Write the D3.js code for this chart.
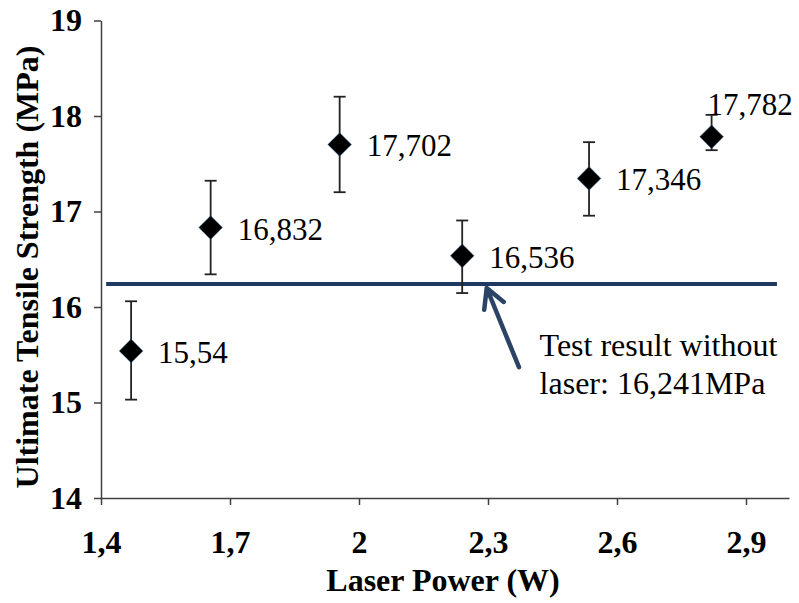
<!DOCTYPE html>
<html>
<head>
<meta charset="utf-8">
<script src="https://cdn.jsdelivr.net/npm/d3@7"></script>
<style>
  body { margin: 0; background: #fff; }
  svg { display: block; }
  svg text { font-family: "Times New Roman", Tinos, "Liberation Serif", "DejaVu Serif", serif; fill: #000; }
  .axis path, .axis line { stroke: #404040; stroke-width: 1.5; }
  .axis text { font-weight: bold; font-size: 32px; }
</style>
</head>
<body>
<div id="chart"></div>
<script>
// laser power (W) and ultimate tensile strength (MPa)
var power = [1.47, 1.655, 1.955, 2.24, 2.535, 2.82];
var strength = [15.54, 16.832, 17.702, 16.536, 17.346, 17.782];
var errUp = [0.52, 0.49, 0.5, 0.37, 0.38, 0.23];
var errDown = [0.51, 0.49, 0.5, 0.39, 0.39, 0.14];
var labels = ['15,54', '16,832', '17,702', '16,536', '17,346', '17,782'];
var xTicks = [1.4, 1.7, 2, 2.3, 2.6, 2.9];
var yTicks = [14, 15, 16, 17, 18, 19];
var noLaser = 16.241;
var noLaserText = ['Test result without', 'laser: 16,241MPa'];

var width = 799, height = 603;

var svg = d3.select('#chart').append('svg')
  .attr('width', width)
  .attr('height', height);

var x = d3.scaleLinear().domain([1.4, 3.0]).range([101, 789]);
var y = d3.scaleLinear().domain([14, 19]).range([498, 20.5]);

var fmt = function(d) { return String(d).replace('.', ','); };

// axes
svg.append('g')
  .attr('class', 'axis')
  .attr('transform', 'translate(0,' + y(14) + ')')
  .call(d3.axisBottom(x).tickValues(xTicks).tickFormat(fmt).tickSize(7).tickSizeOuter(0).tickPadding(25));

svg.append('g')
  .attr('class', 'axis')
  .attr('transform', 'translate(' + x(1.4) + ',0)')
  .call(d3.axisLeft(y).tickValues(yTicks).tickFormat(fmt).tickSize(7).tickSizeOuter(0).tickPadding(12));

svg.append('text')
  .attr('x', (x(1.4) + x(3.0)) / 2 - 2)
  .attr('y', 591)
  .attr('text-anchor', 'middle')
  .style('font-weight', 'bold')
  .style('font-size', '32px')
  .text('Laser Power (W)');

svg.append('text')
  .attr('transform', 'translate(38,267) rotate(-90)')
  .attr('text-anchor', 'middle')
  .style('font-weight', 'bold')
  .style('font-size', '32px')
  .text('Ultimate Tensile Strength (MPa)');

// reference line without laser
svg.append('line')
  .attr('x1', x(1.412)).attr('x2', x(2.972))
  .attr('y1', y(noLaser)).attr('y2', y(noLaser))
  .attr('stroke', '#1f3a60')
  .attr('stroke-width', 4);

// arrow
var tip = [x(2.297), y(noLaser) + 4];
var tail = [x(2.372), y(15.37)];
var ang = Math.atan2(tail[1] - tip[1], tail[0] - tip[0]);
var hl = 22, spread = 0.5;
svg.append('path')
  .attr('d', 'M' + tail + 'L' + tip +
    'M' + [tip[0] + hl * Math.cos(ang - spread), tip[1] + hl * Math.sin(ang - spread)] +
    'L' + tip +
    'L' + [tip[0] + hl * Math.cos(ang + spread), tip[1] + hl * Math.sin(ang + spread)])
  .attr('fill', 'none')
  .attr('stroke', '#2b4466')
  .attr('stroke-width', 4.5)
  .attr('stroke-linecap', 'round')
  .attr('stroke-linejoin', 'round');

svg.selectAll('.note')
  .data(noLaserText)
  .enter().append('text')
  .attr('class', 'note')
  .attr('x', x(2.42))
  .attr('y', function(d, i) { return y(15.5) + 1 + i * 38; })
  .style('font-size', '32px')
  .text(function(d) { return d; });

// error bars
var bars = svg.selectAll('.err')
  .data(power)
  .enter().append('g')
  .attr('class', 'err')
  .attr('stroke', '#222')
  .attr('stroke-width', 1.8);

bars.append('line')
  .attr('x1', function(d) { return x(d); })
  .attr('x2', function(d) { return x(d); })
  .attr('y1', function(d, i) { return y(strength[i] + errUp[i]); })
  .attr('y2', function(d, i) { return y(strength[i] - errDown[i]); });

bars.append('line')
  .attr('x1', function(d) { return x(d) - 6; })
  .attr('x2', function(d) { return x(d) + 6; })
  .attr('y1', function(d, i) { return y(strength[i] + errUp[i]); })
  .attr('y2', function(d, i) { return y(strength[i] + errUp[i]); });

bars.append('line')
  .attr('x1', function(d) { return x(d) - 6; })
  .attr('x2', function(d) { return x(d) + 6; })
  .attr('y1', function(d, i) { return y(strength[i] - errDown[i]); })
  .attr('y2', function(d, i) { return y(strength[i] - errDown[i]); });

// diamond markers
svg.selectAll('.pt')
  .data(power)
  .enter().append('path')
  .attr('class', 'pt')
  .attr('d', d3.symbol().type(d3.symbolSquare).size(280))
  .attr('transform', function(d, i) {
    return 'translate(' + x(d) + ',' + y(strength[i]) + ') rotate(45)';
  })
  .attr('fill', '#000')
  .attr('stroke', '#3d6a9e')
  .attr('stroke-opacity', 0.35)
  .attr('stroke-width', 1);

// value labels
svg.selectAll('.lbl')
  .data(power)
  .enter().append('text')
  .attr('class', 'lbl')
  .attr('x', function(d, i) { return i === 5 ? x(d) - 4 : x(d) + 27; })
  .attr('y', function(d, i) { return i === 5 ? y(strength[i]) - 22 : y(strength[i]) + 12; })
  .style('font-size', '31px')
  .text(function(d, i) { return labels[i]; });
</script>
</body>
</html>
